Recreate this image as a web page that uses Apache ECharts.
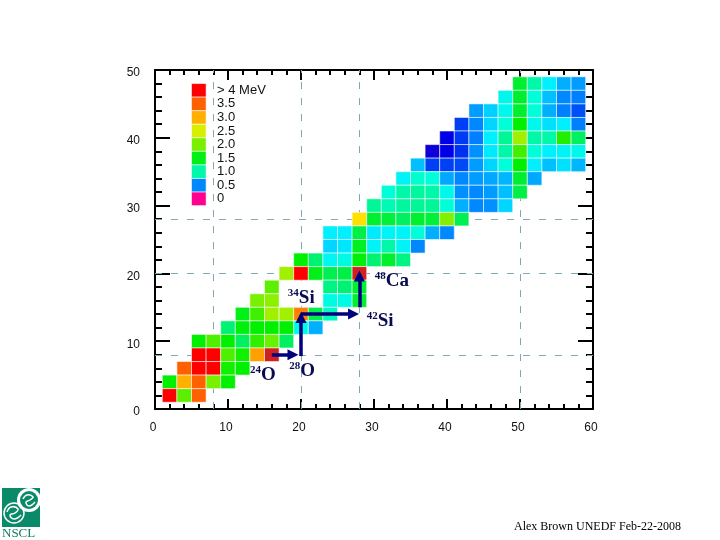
<!DOCTYPE html>
<html>
<head>
<meta charset="utf-8">
<title>Shell gaps</title>
<style>
html, body { margin: 0; padding: 0; background: #fff; }
#chart { width: 720px; height: 540px; }
</style>
<script src="https://cdn.jsdelivr.net/npm/echarts@6/dist/echarts.min.js"></script>
</head>
<body>
<div id="chart"></div>
<script>
// Each row: first element is the N of the first cell, then gap (MeV) every 2 in N. null = no cell.
var z48 = [50, 1.4, 1.0, 0.8, 0.6, 0.55];
var z46 = [48, 0.85, 1.4, 0.9, 0.65, 0.5, 0.45];
var z44 = [44, 0.55, 0.7, 0.85, 1.4, 0.9, 0.6, 0.45, 0.35];
var z42 = [42, 0.3, 0.5, 0.72, 0.9, 1.6, 0.85, 0.75, 0.8, 0.45];
var z40 = [40, 0.15, 0.28, 0.45, 0.8, 1.05, 2.2, 1.0, 1.0, 1.7, 1.2];
var z38 = [38, 0.05, 0.15, 0.25, 0.52, 0.78, 1.0, 1.8, 0.9, 0.8, 0.82, 0.85];
var z36 = [36, 0.65, 0.3, 0.3, 0.33, 0.55, 0.72, 0.9, 1.6, 0.8, 0.65, 0.75, 0.62];
var z34 = [34, 0.82, 0.92, 0.9, 0.58, 0.5, 0.55, 0.58, 0.62, 1.4, 0.58];
var z32 = [32, 0.9, 1.0, 1.03, 1.0, 0.85, 0.52, 0.5, 0.55, 0.65, 1.3];
var z30 = [30, 1.05, 0.97, 1.03, 1.05, 1.05, 0.9, 0.6, 0.5, 0.52, 0.72];
var z28 = [28, 2.75, 1.4, 1.35, 1.2, 1.4, 1.35, 2.05, 1.25];
var z26 = [24, 0.8, 0.8, 1.3, 0.78, 0.82, 0.82, 0.9, 0.6, 0.5];
var z24 = [24, 0.72, 0.77, 1.45, 0.82, 1.0, 0.82, 0.5];
var z22 = [20, 1.6, 1.15, 0.83, 0.87, 1.55, 1.15, 1.4, 1.1];
var z20 = [18, 2.2, 4, 1.5, 1.25, 1.3, 4.5];
var z18 = [16, 1.9, null, null, null, 1.1, 1.15, 1.4];
var z16 = [14, 2.0, 2.1, null, null, null, 0.87, 0.87, 1.4];
var z14 = [12, 1.5, 1.8, 2.2, 2.2, 3.3, 1.3, 0.95];
var z12 = [10, 1.15, 1.55, 1.6, 1.6, 1.6, 0.87, 0.6];
var z10 = [6, 1.6, 1.85, 1.6, 1.2, 1.75, 1.95, 1.2];
var z8 = [6, 4, 4, 1.85, 1.65, 3.1, 4.5];
var z6 = [4, 3.5, 4, 4, 1.65, 1.6];
var z4 = [2, 1.6, 3, 3.5, 2, 1.6];
var z2 = [2, 4, 1.9, 3.5];
var rowZ = [48, 46, 44, 42, 40, 38, 36, 34, 32, 30, 28, 26, 24, 22, 20, 18, 16, 14, 12, 10, 8, 6, 4, 2];
var rows = [z48, z46, z44, z42, z40, z38, z36, z34, z32, z30, z28, z26, z24, z22, z20, z18, z16, z14, z12, z10, z8, z6, z4, z2];

var legendValues = [4, 3.5, 3, 2.5, 2, 1.5, 1, 0.5, 0];
var legendLabels = ['> 4 MeV', '3.5', '3.0', '2.5', '2.0', '1.5', '1.0', '0.5', '0'];
var legendZ = [47, 45, 43, 41, 39, 37, 35, 33, 31];

var magicNumbers = [8, 20, 28, 50];

// x0, y0, x1, y1 of the navy arrows, the heads are centred on the end point
var arrow1 = [16, 8, 18.9, 8];
var arrow2 = [20, 7.8, 20, 13.5];
var arrow3 = [20, 14, 27.2, 14];
var arrow4 = [28, 15, 28, 19.6];

var nucleiNames = ['24|O', '28|O', '34|Si', '48|Ca', '42|Si'];
var nucleiN = [13, 18.4, 18.2, 30.1, 29];
var nucleiZ = [5.0, 5.6, 16.4, 18.9, 13.0];

// colour scale of the gaps
var stopValues = [0, 0.05, 0.15, 0.25, 0.35, 0.45, 0.5, 0.6, 0.7, 0.8, 0.9, 1.0, 1.2, 1.4, 1.6, 1.8, 2.0, 2.2, 2.5, 2.75, 3, 3.5, 4, 4.5];
var stopColors = ['#ff0090', '#1000d8', '#0000e8', '#0030f0', '#0050f8', '#0080ff', '#0088ff', '#00b0ff', '#00d0ff', '#00f0ff', '#00ffd8', '#00f8a8', '#00f060', '#00f030', '#00f000', '#40f000', '#78f000', '#a0f000', '#d8f000', '#ffe000', '#ffb000', '#ff6000', '#ff0000', '#d02020'];

function gapColor(v) {
    for (var i = 1; i < stopValues.length; i++) {
        if (v <= stopValues[i]) {
            var t = (v - stopValues[i - 1]) / (stopValues[i] - stopValues[i - 1]);
            return echarts.color.lerp(t, [stopColors[i - 1], stopColors[i]]);
        }
    }
    return stopColors[stopColors.length - 1];
}

var cells = [];
rows.forEach(function(row, r) {
    for (var i = 1; i < row.length; i++) {
        if (row[i] !== null) cells.push([row[0] + (i - 1) * 2, rowZ[r], row[i]]);
    }
});

var legendCells = legendValues.map(function(v, i) {
    return [6, legendZ[i], v];
});

var renderCell = function(params, api) {
    var c = api.coord([api.value(0), api.value(1)]);
    var s = api.size([2, 2]);
    return {
        type: 'rect',
        shape: { x: c[0] - s[0] / 2, y: c[1] - s[1] / 2, width: s[0], height: s[1] },
        style: { fill: gapColor(api.value(2)), stroke: 'rgba(255,255,255,0.55)', lineWidth: 1 }
    };
};

var segment = function(a) {
    return [{ coord: [a[0], a[1]] }, { coord: [a[2], a[3]] }];
};

var magicLines = [];
magicNumbers.forEach(function(m) {
    magicLines.push({ xAxis: m });
    if (m < 50) magicLines.push({ yAxis: m });
});

var axisBase = {
    type: 'value',
    axisLine: { onZero: false, lineStyle: { color: '#000', width: 2 } },
    splitLine: { show: false }
};
var xTicks = {
    axisTick: { inside: true, length: 10, lineStyle: { color: '#000', width: 2 } },
    minorTick: { show: true, splitNumber: 5, length: 5, lineStyle: { color: '#000', width: 2 } }
};
var yTicks = {
    axisTick: { inside: true, length: 15, lineStyle: { color: '#000', width: 2 } },
    minorTick: { show: true, splitNumber: 5, length: 7, lineStyle: { color: '#000', width: 2 } }
};
var tickFont = { fontFamily: 'Liberation Sans', fontSize: 12, color: '#111' };

var option = {
    animation: false,
    backgroundColor: '#fff',
    textStyle: { fontFamily: 'Liberation Sans' },
    grid: { left: 155, right: 127, top: 70, bottom: 131 },
    xAxis: [
        Object.assign({}, axisBase, xTicks, { min: 0, max: 60, interval: 10, position: 'bottom',
            axisLabel: Object.assign({ margin: 13, padding: [0, 4, 0, 0] }, tickFont) }),
        Object.assign({}, axisBase, xTicks, { min: 0, max: 60, interval: 10, position: 'top', axisLabel: { show: false } })
    ],
    yAxis: [
        Object.assign({}, axisBase, yTicks, { min: 0, max: 50, interval: 10, position: 'left',
            axisLabel: Object.assign({ margin: 15, verticalAlign: 'top', lineHeight: 6 }, tickFont) }),
        Object.assign({}, axisBase, yTicks, { min: 0, max: 50, interval: 10, position: 'right', axisLabel: { show: false } })
    ],
    series: [
        {
            type: 'line',
            data: [],
            silent: true,
            markLine: {
                silent: true,
                z: 1,
                symbol: 'none',
                label: { show: false },
                lineStyle: { color: '#7fa8b8', width: 1, type: [7, 9] },
                data: magicLines
            }
        },
        { type: 'custom', z: 2, silent: true, renderItem: renderCell, data: cells },
        { type: 'custom', z: 2, silent: true, renderItem: renderCell, data: legendCells },
        {
            type: 'scatter',
            z: 3,
            silent: true,
            symbolSize: 0,
            itemStyle: { opacity: 1 },
            data: legendZ.map(function(z, i) { return [8.5, z]; }),
            label: {
                show: true,
                position: 'right',
                distance: 0,
                fontFamily: 'Liberation Sans',
                fontSize: 13,
                color: '#111',
                formatter: function(p) { return legendLabels[p.dataIndex]; }
            }
        },
        {
            type: 'line',
            data: [],
            silent: true,
            markLine: {
                silent: true,
                z: 6,
                symbol: ['none', 'triangle'],
                symbolSize: 11,
                label: { show: false },
                lineStyle: { color: '#00007f', width: 3.5, type: 'solid' },
                data: [segment(arrow1), segment(arrow2), segment(arrow3), segment(arrow4)]
            }
        },
        {
            type: 'scatter',
            z: 7,
            silent: true,
            symbolSize: 0,
            itemStyle: { opacity: 1 },
            data: nucleiN.map(function(n, i) { return [n, nucleiZ[i]]; }),
            label: {
                show: true,
                position: 'right',
                distance: 0,
                formatter: function(p) {
                    var parts = nucleiNames[p.dataIndex].split('|');
                    return '{sup|' + parts[0] + '}{el|' + parts[1] + '}';
                },
                rich: {
                    sup: { fontFamily: 'Liberation Serif', fontWeight: 'bold', fontSize: 11, color: '#0a0a50', verticalAlign: 'top', lineHeight: 20 },
                    el: { fontFamily: 'Liberation Serif', fontWeight: 'bold', fontSize: 19, color: '#0a0a50', lineHeight: 20 }
                }
            }
        }
    ],
    graphic: [
        { type: 'text', x: 514, y: 521, style: { text: 'Alex Brown UNEDF Feb-22-2008', fontFamily: 'Liberation Serif', fontSize: 12, fill: '#000' } },
        // NSCL logo
        { type: 'rect', shape: { x: 2, y: 488, width: 38, height: 39 }, style: { fill: '#0a8a68' } },
        { type: 'circle', shape: { cx: 29, cy: 500, r: 12 }, style: { fill: '#fff' } },
        { type: 'circle', shape: { cx: 29, cy: 500, r: 9 }, style: { fill: '#0a8a68' } },
        { type: 'circle', shape: { cx: 14, cy: 513, r: 10 }, style: { fill: 'none', stroke: '#fff', lineWidth: 1.5 } },
        { type: 'polyline', shape: { points: [[23, 499], [27, 495], [33, 497], [30, 500], [26, 502], [29, 506], [35, 502]], smooth: 0.5 }, style: { fill: 'none', stroke: '#fff', lineWidth: 1.5 } },
        { type: 'polyline', shape: { points: [[7, 512], [11, 507], [18, 509], [15, 513], [10, 515], [14, 519], [21, 515]], smooth: 0.5 }, style: { fill: 'none', stroke: '#fff', lineWidth: 1.5 } },
        { type: 'text', x: 2, y: 527, style: { text: 'NSCL', fontFamily: 'Liberation Serif', fontSize: 13, fill: '#0f7a60' } }
    ]
};

var chart = echarts.init(document.getElementById('chart'));
chart.setOption(option);
</script>
</body>
</html>
